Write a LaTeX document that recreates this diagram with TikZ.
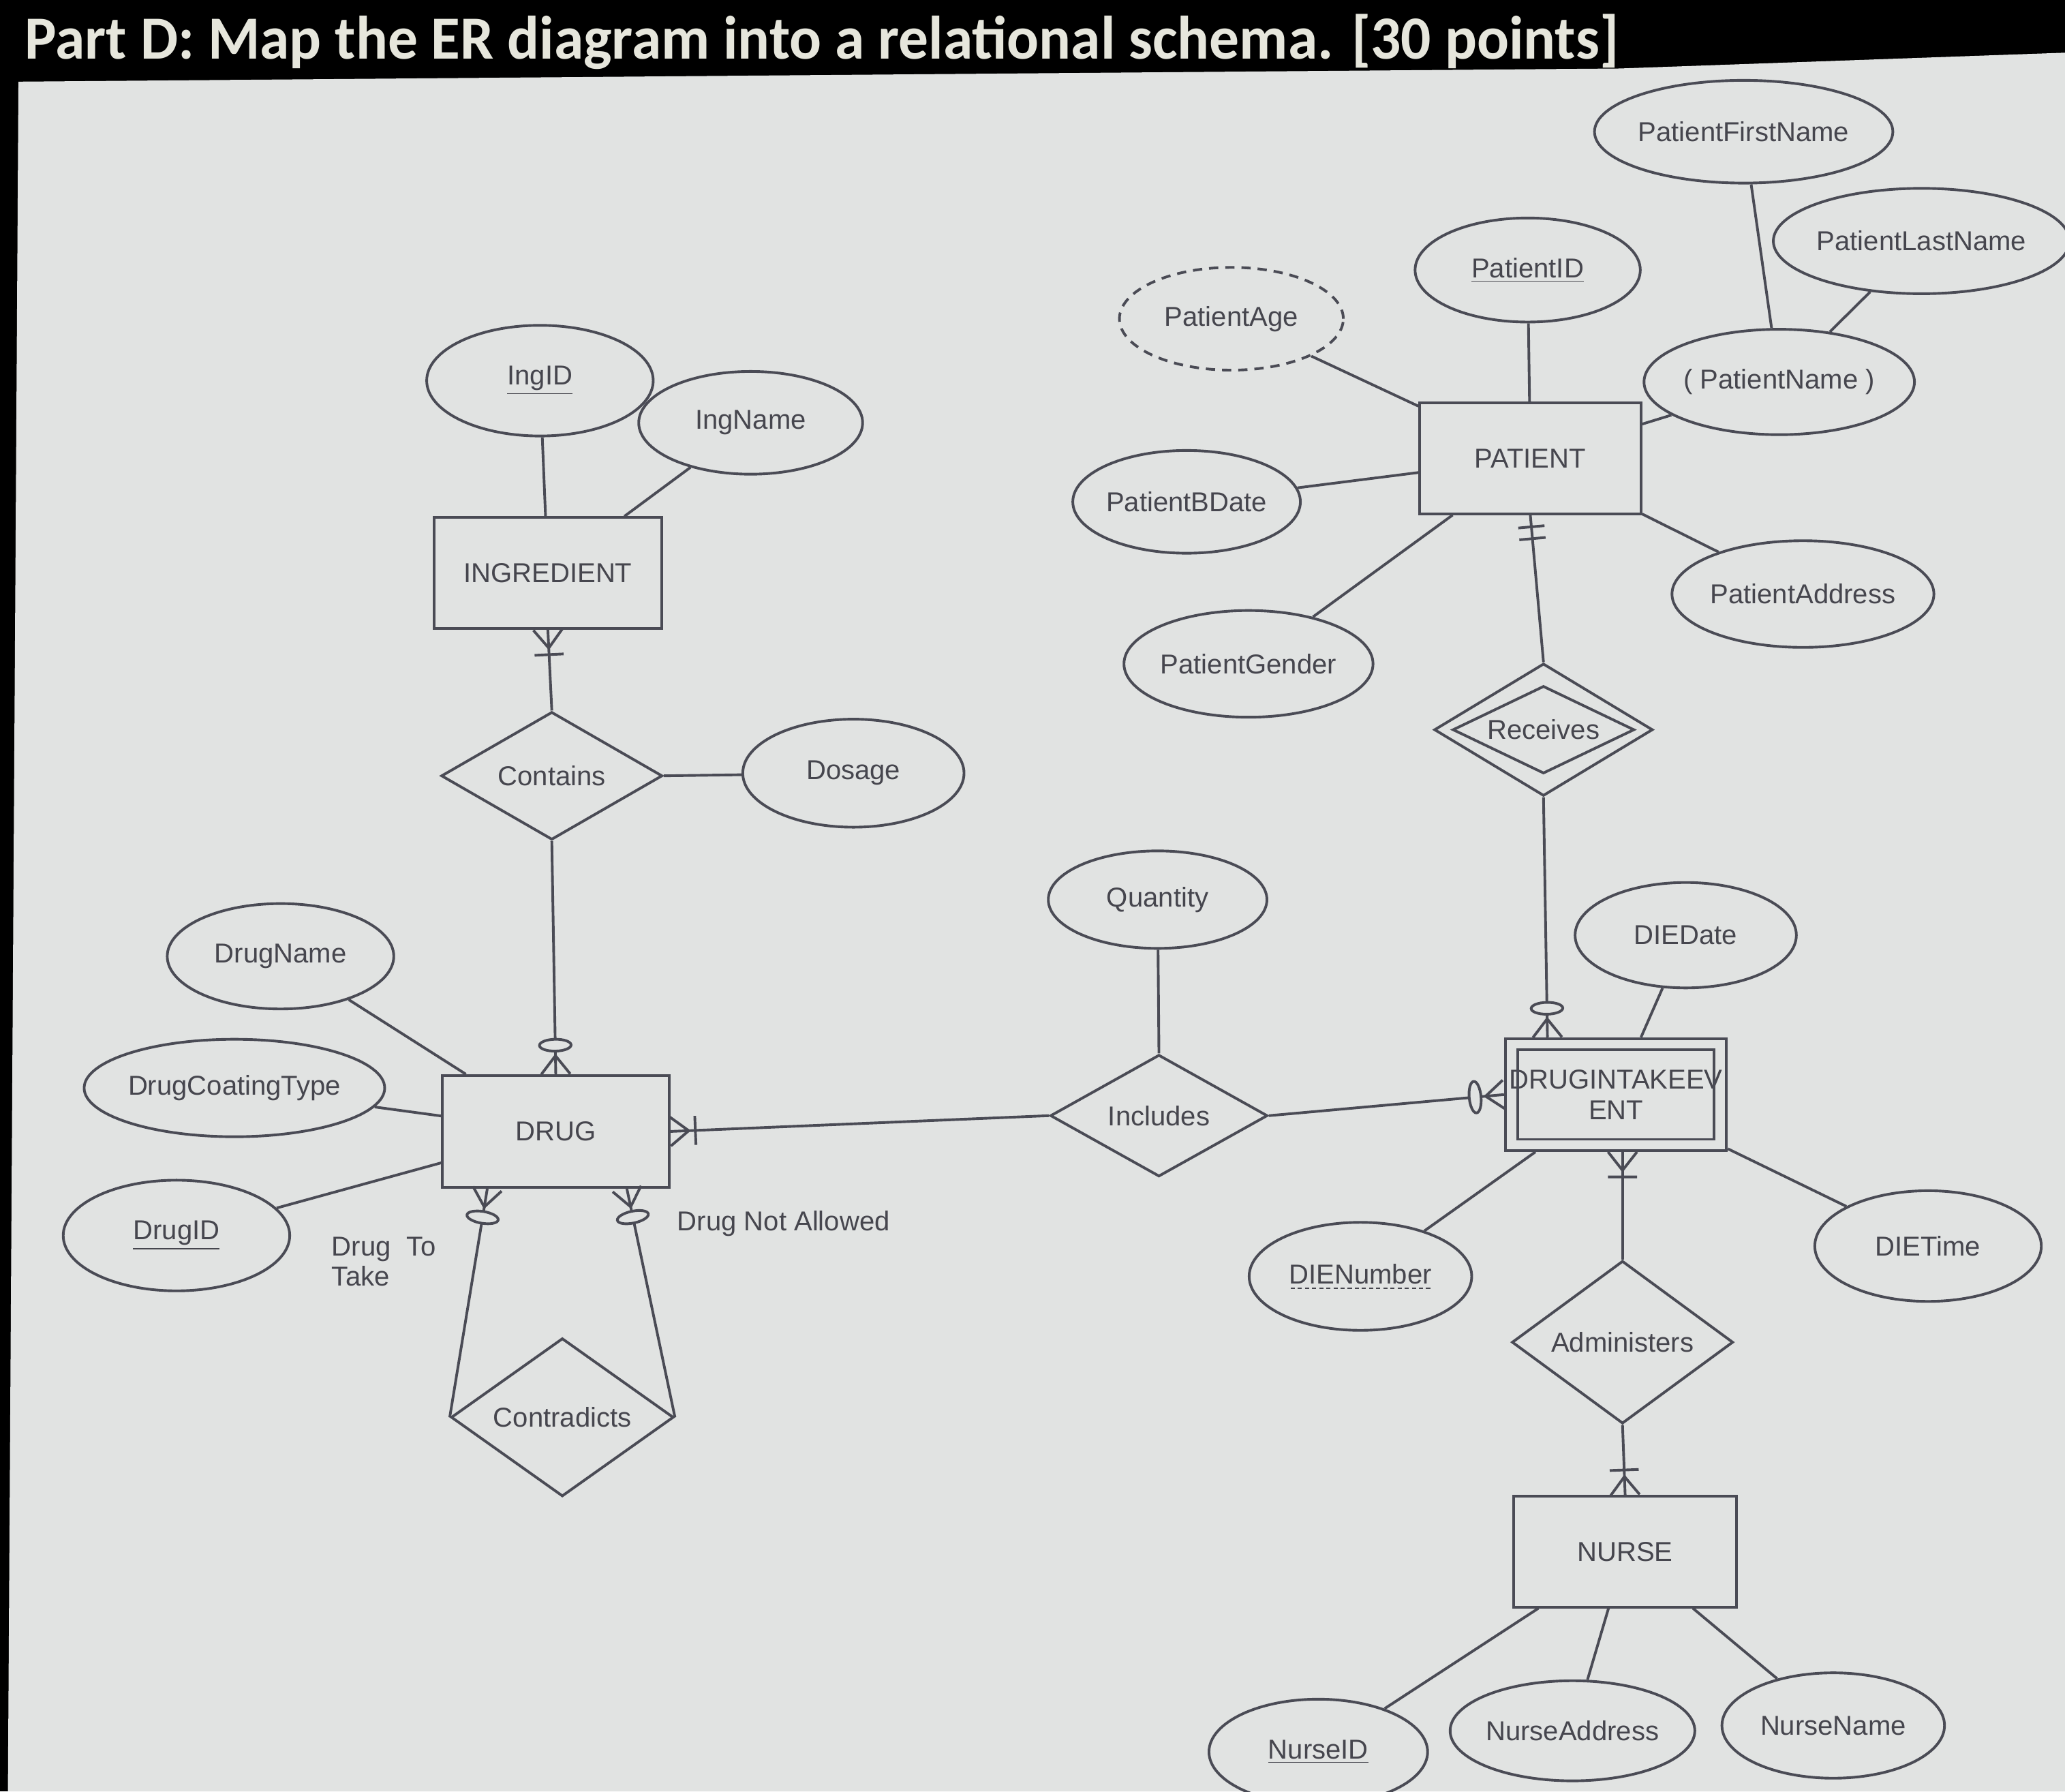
\documentclass[tikz,border=0pt]{standalone}
\usepackage{fontspec}
\setmainfont{Liberation Sans}
\newfontfamily\titlefont{Carlito}
\usetikzlibrary{shapes.geometric,calc}
\definecolor{bg}{HTML}{E1E3E2}
\definecolor{ink}{HTML}{4A4B55}
\definecolor{txt}{HTML}{46464E}
\definecolor{titletxt}{HTML}{E6E6DC}
\newcommand\ersym[3]{\path let \p1=(#1), \p2=(#2), \n1={atan2(\y2-\y1,\x2-\x1)} in (\p1) pic[rotate=\n1] {#3};}
\newcommand\dashul[1]{\setbox0=\hbox{#1}\rlap{\hbox to \wd0{\xleaders\hbox to 3pt{\hss\vrule height -1.6pt depth 2.2pt width 1.8pt\hss}\hfill}}\box0}
\tikzset{
  lbl/.style={text=txt,font=\fontsize{11.8}{13.2}\selectfont,inner sep=0pt},
  ent/.style 2 args={lbl,draw=ink,rectangle,minimum width=#1,minimum height=#2},
  rel/.style 2 args={lbl,draw=ink,diamond,minimum width=#1,minimum height=#2},
  attr/.style 2 args={lbl,draw=ink,ellipse,minimum width=#1,minimum height=#2},
  conn/.style={draw=ink},
  pics/onemany/.style={code={\draw[ink] (14,0)--(0,-11) (14,0)--(0,11) (19,-11)--(19,11);}},
  pics/zeromany/.style={code={\draw[ink] (14,0)--(0,-11) (14,0)--(0,11);
      \draw[ink,fill=bg] (22,0) ellipse [x radius=4.5, y radius=12];}},
  pics/oneone/.style={code={\draw[ink] (9,-10)--(9,10) (18,-10)--(18,10);}},
}
\begin{document}
\begin{tikzpicture}[x=0.2mm,y=-0.2mm,line width=1.15pt,color=ink]
\useasboundingbox (0,0) rectangle (1568,1360);
\fill[black] (0,0) rectangle (1568,1360);
\fill[bg] (14,62) -- (1230,52) -- (1568,40) -- (1568,1360) -- (6,1360) -- cycle;
\node[anchor=base west,text=titletxt,inner sep=0pt] (title) at (18,45)
  {\resizebox{242mm}{6.8mm}{\titlefont\bfseries Part D: Map the ER diagram into a relational schema. [30 points]}};

% entities
\node[ent={34.6mm}{16.8mm}] (ingredient) at (416,435) {INGREDIENT};
\node[ent={34.4mm}{17mm}] (drug) at (422,859) {DRUG};
\node[ent={33.6mm}{16.8mm}] (patient) at (1162,348) {PATIENT};
\node[ent={33.8mm}{16.8mm}] (nurse) at (1234,1178) {NURSE};
\node[ent={33.6mm}{17mm},align=center] (die) at (1227,831) {DRUGINTAKEEV\\ENT};
\node[draw=ink,rectangle,minimum width=29.8mm,minimum height=13.6mm,inner sep=0pt] (dieinner) at (die.center) {};

% relationships
\node[rel={33.6mm}{16.6mm}] (contains) at (419,589) {Contains};
\node[rel={33.8mm}{17.6mm}] (contradicts) at (427,1076) {Contradicts};
\node[rel={33mm}{16.8mm}] (includes) at (880,847) {Includes};
\node[rel={33.2mm}{16mm}] (receives) at (1172,554) {Receives};
\node[draw=ink,diamond,minimum width=27.6mm,minimum height=13.3mm,inner sep=0pt] (recvinner) at (receives.center) {};
\node[rel={33.6mm}{16.6mm}] (administers) at (1232,1019) {Administers};

% attributes
\node[attr={34.4mm}{16.8mm}] (ingid) at (410,289) {\underline{IngID}};
\node[attr={34mm}{15.6mm}] (ingname) at (570,321) {IngName};
\node[attr={33.6mm}{16.4mm}] (dosage) at (648,587) {Dosage};
\node[attr={34.4mm}{16mm}] (drugname) at (213,726) {DrugName};
\node[attr={34.4mm}{14.8mm}] (drugcoat) at (178,826) {DrugCoatingType};
\node[attr={34.4mm}{16.8mm}] (drugid) at (134,938) {\underline{DrugID}};
\node[attr={33.2mm}{14.8mm}] (quantity) at (879,683) {Quantity};
\node[attr={34.4mm}{15.6mm}] (pfirst) at (1324,100) {PatientFirstName};
\node[attr={34.4mm}{16mm}] (plast) at (1459,183) {PatientLastName};
\node[attr={34.2mm}{15.8mm}] (pid) at (1160,205) {\underline{PatientID}};
\node[attr={34mm}{15.6mm},dashed,dash pattern=on 4pt off 3pt] (page) at (935,242) {PatientAge};
\node[attr={34.4mm}{16mm}] (pname) at (1351,290) {( PatientName )};
\node[attr={33.6mm}{15.6mm}] (pbdate) at (901,381) {PatientBDate};
\node[attr={34.2mm}{16.2mm}] (paddr) at (1369,451) {PatientAddress};
\node[attr={33mm}{16.2mm}] (pgender) at (948,504) {PatientGender};
\node[attr={33.6mm}{16mm}] (diedate) at (1280,710) {DIEDate};
\node[attr={33.8mm}{16.4mm}] (dienum) at (1033,969) {\dashul{DIENumber}};
\node[attr={34.4mm}{16.8mm}] (dietime) at (1464,946) {DIETime};
\node[attr={33.2mm}{16mm}] (nurseid) at (1001,1330) {\underline{NurseID}};
\node[attr={35mm}{15.2mm}] (nurseaddr) at (1194,1314) {NurseAddress};
\node[attr={33.8mm}{16mm}] (nursename) at (1392,1310) {NurseName};

% labels
\node[lbl,align=left,anchor=north west] (dtt) at (251,938) {Drug\hspace{2.4mm}To\\Take};
\node[lbl] (dna) at (595,929) {Drug Not Allowed};

% helper coordinates
\coordinate (dL) at ($(drug.south)+(-52,0)$);
\coordinate (dR) at ($(drug.south)+(54,0)$);
\coordinate (dieT) at ($(die.north)+(-52,0)$);
\coordinate (dieB) at (administers.north |- die.south);

% attribute connectors
\draw[conn] (ingid) -- (ingredient);
\draw[conn] (ingname) -- (ingredient);
\draw[conn] (contains.east) -- (dosage);
\draw[conn] (drugname) -- (drug);
\draw[conn] (drugcoat) -- (drug);
\draw[conn] (drugid) -- (drug);
\draw[conn] (quantity) -- (includes.north);
\draw[conn] (pid) -- (patient);
\draw[conn] (page) -- (patient);
\draw[conn] (pname) -- (patient);
\draw[conn] (pbdate) -- (patient);
\draw[conn] (paddr) -- (patient);
\draw[conn] (pgender) -- (patient);
\draw[conn] (pfirst) -- (pname);
\draw[conn] (plast) -- (pname);
\draw[conn] (diedate) -- (die);
\draw[conn] (dienum) -- (die);
\draw[conn] (dietime) -- (die);
\draw[conn] (nurseid) -- (nurse);
\draw[conn] (nurseaddr) -- (nurse);
\draw[conn] (nursename) -- (nurse);

% relationship connectors
\draw[conn] (ingredient.south) -- (contains.north);
\draw[conn] (drug.north) -- (contains.south);
\draw[conn] (drug.east) -- (includes.west);
\draw[conn] (dL) -- (contradicts.west);
\draw[conn] (dR) -- (contradicts.east);
\draw[conn] (die.west) -- (includes.east);
\draw[conn] (patient.south) -- (receives.north);
\draw[conn] (dieT) -- (receives.south);
\draw[conn] (dieB) -- (administers.north);
\draw[conn] (nurse.north) -- (administers.south);

% cardinality symbols
\ersym{ingredient.south}{contains.north}{onemany}
\ersym{drug.north}{contains.south}{zeromany}
\ersym{drug.east}{includes.west}{onemany}
\ersym{dL}{contradicts.west}{zeromany}
\ersym{dR}{contradicts.east}{zeromany}
\ersym{die.west}{includes.east}{zeromany}
\ersym{patient.south}{receives.north}{oneone}
\ersym{dieT}{receives.south}{zeromany}
\ersym{dieB}{administers.north}{onemany}
\ersym{nurse.north}{administers.south}{onemany}
\end{tikzpicture}
\end{document}
